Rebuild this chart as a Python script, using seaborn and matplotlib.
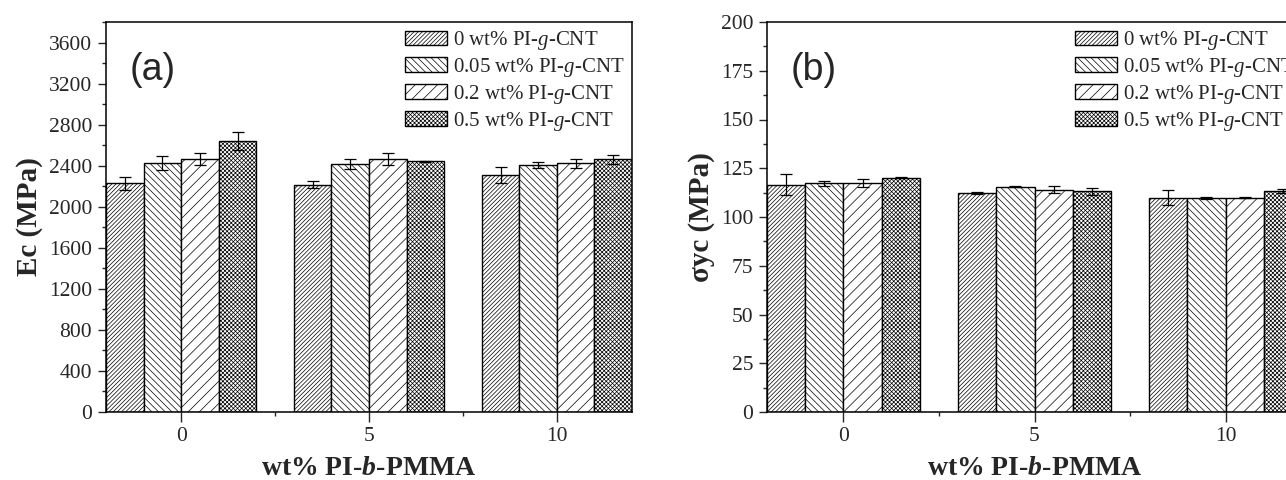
import numpy as np
import pandas as pd
import seaborn as sns
import matplotlib
matplotlib.use("Agg")
import matplotlib.pyplot as plt
from matplotlib.ticker import MultipleLocator, FixedLocator

# data
pmma = ["0", "5", "10"]
cnt_labels = ["0 wt% PI-$g$-CNT", "0.05 wt% PI-$g$-CNT", "0.2 wt% PI-$g$-CNT", "0.5 wt% PI-$g$-CNT"]

ec_0 = [2228, 2215, 2313]
ec_005 = [2426, 2416, 2407]
ec_02 = [2462, 2465, 2423]
ec_05 = [2640, 2442, 2462]
ec_err_0 = [65, 36, 77]
ec_err_005 = [68, 49, 32]
ec_err_02 = [58, 55, 42]
ec_err_05 = [85, 8, 45]

syc_0 = [116.5, 112.2, 109.8]
syc_005 = [117.3, 115.6, 109.8]
syc_02 = [117.5, 114.1, 109.8]
syc_05 = [120.2, 113.2, 113.4]
syc_err_0 = [5.4, 0.6, 3.9]
syc_err_005 = [1.3, 0.3, 0.5]
syc_err_02 = [1.9, 2.0, 0.3]
syc_err_05 = [0.4, 1.7, 0.9]

hatches = ["/" * 8, "\\" * 5, "/" * 3, "x" * 8]

sns.set_style("ticks")
plt.rcParams["font.family"] = ["Liberation Serif", "DejaVu Serif"]
plt.rcParams["mathtext.fontset"] = "custom"
plt.rcParams["mathtext.rm"] = "Liberation Serif"
plt.rcParams["mathtext.it"] = "Liberation Serif:italic"
plt.rcParams["mathtext.bf"] = "Liberation Serif:bold"
plt.rcParams["mathtext.bfit"] = "Liberation Serif:italic:bold"
plt.rcParams["hatch.linewidth"] = 0.5
plt.rcParams["hatch.color"] = "black"


def make_df(series):
    rows = []
    for lab, vals in zip(cnt_labels, series):
        for p, v in zip(pmma, vals):
            rows.append({"pmma": p, "cnt": lab, "val": v})
    return pd.DataFrame(rows)


def draw_panel(ax, series, errs, ylim, major, minor, ylabel, tag):
    df = make_df(series)
    sns.barplot(data=df, x="pmma", y="val", hue="cnt", order=pmma, hue_order=cnt_labels,
                palette=["white"] * 4, edgecolor="black", linewidth=1.0, width=0.8,
                errorbar=None, ax=ax, legend=True)
    for cont, h, e in zip(ax.containers, hatches, errs):
        xs = []
        ys = []
        for bar in cont:
            bar.set_hatch(h)
            bar.set_zorder(2)
            xs.append(bar.get_x() + bar.get_width() / 2)
            ys.append(bar.get_height())
        ax.errorbar(xs, ys, yerr=e, fmt="none", ecolor="black", elinewidth=0.9,
                    capsize=4, capthick=0.9, zorder=3)
    ax.set_xlim(-0.4, 2.4)
    ax.set_ylim(*ylim)
    ax.yaxis.set_major_locator(MultipleLocator(major))
    ax.yaxis.set_minor_locator(MultipleLocator(minor))
    ax.xaxis.set_minor_locator(FixedLocator([0.5, 1.5]))
    ax.tick_params(axis="both", which="major", direction="out", length=6, width=1.0,
                   labelsize=15.5, top=False, right=False, pad=4)
    ax.tick_params(axis="both", which="minor", direction="out", length=3, width=1.0)
    ax.tick_params(axis="x", which="major", length=7, pad=4)
    for sp in ax.spines.values():
        sp.set_visible(True)
        sp.set_linewidth(1.1)
        sp.set_color("black")
    ax.set_xlabel("wt% PI-$\\mathbfit{b}$-PMMA", fontsize=20, fontweight="bold", labelpad=7)
    ax.set_ylabel(ylabel, fontsize=21, fontweight="bold", labelpad=4)
    ax.text(0.045, 0.877, tag, transform=ax.transAxes, fontsize=27,
            family="Liberation Sans", va="center", ha="left")
    leg = ax.legend(loc="upper right", frameon=False, fontsize=15, handlelength=2.0,
                    handleheight=0.7, labelspacing=0.18, handletextpad=0.3,
                    borderaxespad=0.2, borderpad=0.15)
    for hnd, h in zip(leg.legend_handles, hatches):
        hnd.set_hatch(h)
        hnd.set_facecolor("white")
        hnd.set_edgecolor("black")


fig = plt.figure(figsize=(12.86, 4.8), dpi=100)
ax1 = fig.add_axes([106 / 1286, 68 / 480, 526 / 1286, 390 / 480])
ax2 = fig.add_axes([767 / 1286, 68 / 480, 535 / 1286, 390 / 480])

draw_panel(ax1, [ec_0, ec_005, ec_02, ec_05], [ec_err_0, ec_err_005, ec_err_02, ec_err_05],
           (0, 3800), 400, 200, "Ec (MPa)", "(a)")
draw_panel(ax2, [syc_0, syc_005, syc_02, syc_05], [syc_err_0, syc_err_005, syc_err_02, syc_err_05],
           (0, 200), 25, 12.5, "σyc (MPa)", "(b)")

fig.savefig("out.png", dpi=100)
